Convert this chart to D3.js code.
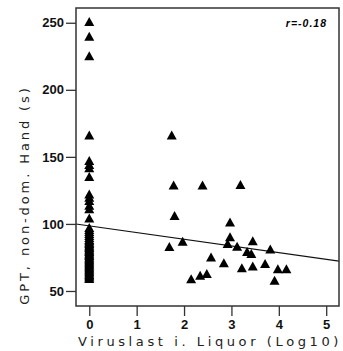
<!DOCTYPE html>
<html>
<head>
<meta charset="utf-8">
<script src="https://cdn.jsdelivr.net/npm/d3@7"></script>
<style>
  body { margin: 0; background: #fff; }
  svg { display: block; }
  .axis-title { font-family: "DejaVu Sans", Verdana, sans-serif; font-size: 13px; fill: #222; }
</style>
</head>
<body>
<svg id="chart" width="343" height="351"></svg>
<script>
// values
const xTicks = [0, 1, 2, 3, 4, 5]
const yTicks = [50, 100, 150, 200, 250]

// patients with no measurable viral load (x = 0)
const zeroGroupY = [250.5, 239.5, 225, 166, 147, 144, 141.5, 135, 122, 119.5, 117, 113.5, 111, 104,
  97, 95.5, 94, 92.5, 91, 89.5, 88, 87, 86, 85, 84, 83, 82, 81, 80, 79, 78, 77, 76, 75, 74,
  73, 72, 71, 70, 69, 68, 67, 66, 65, 64, 63, 62, 61, 60, 59]

// patients with measurable viral load
const loadX = [1.74, 1.78, 2.39, 3.19, 1.80, 1.69, 1.97, 2.15, 2.34, 2.48, 2.57, 2.97, 2.97,
  2.92, 3.12, 3.45, 3.33, 3.42, 3.82, 2.84, 3.22, 3.45, 3.71, 3.98, 4.16, 3.91]
const loadY = [166, 128.6, 128.6, 129, 106, 82.8, 86.8, 58.7, 61.4, 62.7, 75, 101, 90,
  85, 83, 87, 79, 77.6, 81, 70.7, 67, 68.2, 70.1, 66.2, 66.2, 57.7]

const fitIntercept = 98.6
const fitSlope = -5.0
const rLabel = 'r=-0.18'

const svg = d3.select('#chart')
const plotL = 76, plotR = 339, plotT = 8, plotB = 306

const x = d3.scaleLinear().domain([-0.28, 5.27]).range([plotL, plotR])
const y = d3.scaleLinear().domain([38.8, 261]).range([plotB, plotT])

const points = zeroGroupY.map(v => ({ x: 0, y: v }))
  .concat(loadX.map((v, i) => ({ x: v, y: loadY[i] })))

// regression line across the whole frame
const [x0, x1] = x.domain()
svg.append('line')
  .attr('x1', x(x0)).attr('y1', y(fitIntercept + fitSlope * x0))
  .attr('x2', x(x1)).attr('y2', y(fitIntercept + fitSlope * x1))
  .attr('stroke', '#111').attr('stroke-width', 1.1)

// triangles
const tri = 'M0,-5L5,4L-5,4Z'
svg.append('g').selectAll('path')
  .data(points)
  .enter().append('path')
    .attr('d', tri)
    .attr('transform', d => `translate(${x(d.x)},${y(d.y)})`)
    .attr('fill', '#000')

// frame
svg.append('rect')
  .attr('x', plotL).attr('y', plotT)
  .attr('width', plotR - plotL).attr('height', plotB - plotT)
  .attr('fill', 'none').attr('stroke', '#333').attr('stroke-width', 1.5)

// axes
const xAxis = d3.axisBottom(x).tickValues(xTicks).tickFormat(d3.format('d')).tickSize(10).tickPadding(4)
const gx = svg.append('g').attr('transform', `translate(0,${plotB})`).call(xAxis)
const yAxis = d3.axisLeft(y).tickValues(yTicks).tickFormat(d3.format('d')).tickSize(10).tickPadding(2)
const gy = svg.append('g').attr('transform', `translate(${plotL},0)`).call(yAxis)
for (const g of [gx, gy]) {
  g.attr('font-family', '"Liberation Sans", Arial, sans-serif')
   .attr('font-size', 13)
   .attr('font-weight', 'bold')
  g.select('.domain').remove()
  g.selectAll('.tick line').attr('stroke', '#333').attr('stroke-width', 1.3)
  g.selectAll('.tick text').attr('fill', '#111').style('font-weight', 'bold')
}

// titles
svg.append('text').attr('class', 'axis-title')
  .attr('x', 210).attr('y', 346).attr('text-anchor', 'middle')
  .attr('letter-spacing', 3.6)
  .text('Viruslast i. Liquor (Log10)')
svg.append('text').attr('class', 'axis-title')
  .attr('transform', 'translate(29,195) rotate(-90)').attr('text-anchor', 'middle')
  .attr('letter-spacing', 2.9)
  .text('GPT, non-dom. Hand (s)')

svg.append('text')
  .attr('x', 327).attr('y', 27).attr('text-anchor', 'end')
  .attr('font-family', '"Liberation Sans", Arial, sans-serif')
  .attr('font-size', 10.5).attr('font-weight', 'bold').attr('font-style', 'italic')
  .attr('letter-spacing', 1)
  .text(rLabel)
</script>
</body>
</html>
